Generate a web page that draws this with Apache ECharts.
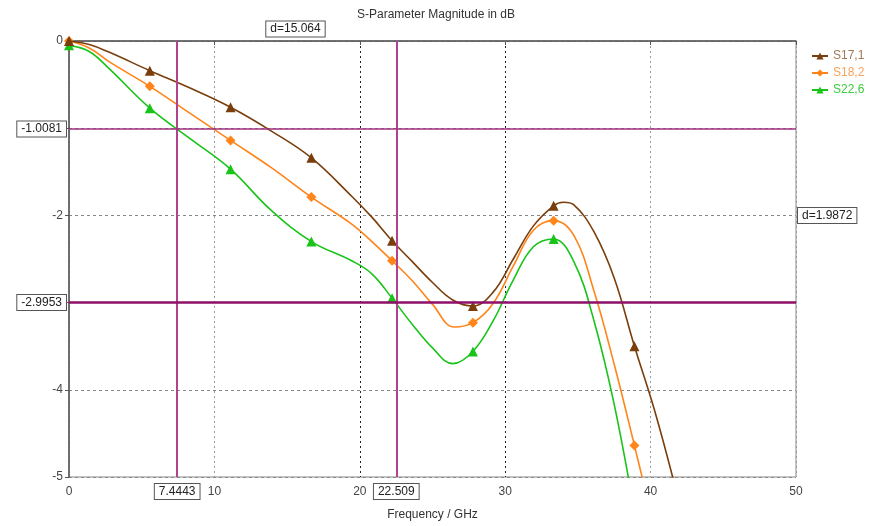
<!DOCTYPE html>
<html>
<head>
<meta charset="utf-8">
<script src="https://cdn.jsdelivr.net/npm/echarts@6/dist/echarts.min.js"></script>
<style>
html, body { margin: 0; padding: 0; background: #fff; }
#chart { width: 872px; height: 526px; }
</style>
</head>
<body>
<div id="chart"></div>
<script>
// frequency samples (GHz) and dB values
const s17Freq = [0, 1.39, 2.78, 5.56, 8.33, 11.11, 13.89, 16.67, 19.44, 20.83, 22.22, 23.61, 25, 26.39, 27.78, 29.17, 30.56, 31.94, 33.33, 34.0, 34.72, 36.11, 37.5, 38.89, 40.28, 41.67];
const s17 = [0, -0.04, -0.13, -0.34, -0.54, -0.76, -1.03, -1.34, -1.78, -2.02, -2.29, -2.53, -2.77, -2.97, -3.04, -2.88, -2.50, -2.12, -1.89, -1.85, -1.88, -2.19, -2.72, -3.50, -4.24, -5.1];
const s18Freq = [0, 1.39, 2.78, 5.56, 8.33, 11.11, 13.89, 16.67, 19.44, 20.83, 22.22, 23.61, 25, 26.5, 27.78, 29.17, 30.56, 31.94, 33.33, 34.72, 36.11, 37.5, 38.89, 40.28];
const s18 = [0, -0.08, -0.24, -0.52, -0.83, -1.14, -1.45, -1.79, -2.10, -2.30, -2.52, -2.75, -3.02, -3.28, -3.23, -3.01, -2.58, -2.17, -2.06, -2.23, -2.87, -3.71, -4.64, -5.6];
const s22Freq = [0, 1.39, 2.78, 5.56, 8.33, 11.11, 13.89, 16.67, 19.44, 20.83, 22.22, 23.61, 25, 26.39, 27.78, 29.17, 30.56, 31.94, 33.33, 34.72, 36.11, 37.5, 38.89];
const s22 = [-0.05, -0.12, -0.32, -0.77, -1.12, -1.47, -1.94, -2.30, -2.52, -2.67, -2.95, -3.25, -3.52, -3.70, -3.56, -3.21, -2.74, -2.36, -2.27, -2.53, -3.21, -4.17, -5.4];
const markerFreqs = [0, 5.56, 11.11, 16.67, 22.22, 27.78, 33.33, 38.89];
const seriesNames = ['S17,1', 'S18,2', 'S22,6'];
const xTicks = [0, 10, 20, 30, 40, 50];
const yTicks = [0, -1, -2, -3, -4, -5];
const cursorX = [7.4443, 22.509];
const cursorY = [-1.0081, -2.9953];
const dLabels = ['d=15.064', 'd=1.9872'];

const FONT = 'Liberation Sans, Arial, sans-serif';
const colors = ['#7a3e0c', '#ff8419', '#19c419'];
const legendText = ['#a07a58', '#f9a35a', '#3ccc3c'];

const myChart = echarts.init(document.getElementById('chart'));

function buildData(fs, vals) {
    var out = [];
    for (var i = 0; i < vals.length; i++) {
        var item = { value: [fs[i], vals[i]] };
        if (markerFreqs.indexOf(fs[i]) < 0) item.symbol = 'none';
        out.push(item);
    }
    return out;
}

const boxLabel = {
    show: true,
    color: '#222',
    fontSize: 12,
    fontFamily: FONT,
    backgroundColor: '#fff',
    borderColor: '#555',
    borderWidth: 1,
    padding: [2, 4, 1, 4]
};

function curve(i, fs, vals, symbol) {
    return {
        name: seriesNames[i],
        type: 'line',
        smooth: 0.4,
        showAllSymbol: true,
        symbol: symbol,
        symbolSize: 10,
        color: colors[i],
        lineStyle: { width: 1.6 },
        data: buildData(fs, vals),
        z: 4 - i
    };
}

const s1 = curve(0, s17Freq, s17, 'triangle');
s1.markLine = {
    silent: true,
    symbol: 'none',
    animation: false,
    data: [
        { xAxis: cursorX[0], lineStyle: { color: '#b2428f', width: 2, type: 'solid' },
          label: Object.assign({}, boxLabel, { position: 'start', distance: 7, formatter: '7.4443' }) },
        { xAxis: cursorX[1], lineStyle: { color: '#b2428f', width: 2, type: 'solid' },
          label: Object.assign({}, boxLabel, { position: 'start', distance: 7, formatter: '22.509' }) },
        { yAxis: cursorY[0], lineStyle: { color: '#a0307e', width: 1.5, type: 'solid' },
          label: Object.assign({}, boxLabel, { position: 'start', distance: 3, formatter: '-1.0081' }) },
        { yAxis: cursorY[1], lineStyle: { color: '#8e0f68', width: 2.5, type: 'solid' },
          label: Object.assign({}, boxLabel, { position: 'start', distance: 3, formatter: '-2.9953' }) }
    ]
};

const option = {
    animation: false,
    title: {
        text: 'S-Parameter Magnitude in dB',
        left: 'center',
        top: 4,
        textStyle: { fontSize: 12, fontWeight: 'normal', color: '#333', fontFamily: FONT }
    },
    legend: {
        orient: 'vertical',
        left: 806,
        top: 45,
        itemWidth: 16,
        itemHeight: 9,
        itemGap: 5,
        textStyle: { fontSize: 12, fontFamily: FONT },
        data: seriesNames.map(function (n, i) {
            return { name: n, textStyle: { color: legendText[i] } };
        })
    },
    grid: {
        left: 69, top: 41, right: 76, bottom: 46,
        show: true, borderColor: '#888', borderWidth: 1
    },
    xAxis: {
        type: 'value',
        min: xTicks[0],
        max: xTicks[xTicks.length - 1],
        interval: xTicks[1] - xTicks[0],
        name: 'Frequency / GHz',
        nameLocation: 'middle',
        nameGap: 32,
        nameTextStyle: { fontSize: 12, color: '#333', fontFamily: FONT },
        axisLine: { lineStyle: { color: '#555', width: 1.5 } },
        axisTick: { show: true, length: 4, lineStyle: { color: '#555' } },
        axisLabel: { fontSize: 12, color: '#444', fontFamily: FONT, margin: 9 },
        splitLine: {
            show: true,
            lineStyle: { type: [2, 3], color: ['#999', '#999', '#222', '#222', '#999', '#999'] }
        }
    },
    yAxis: {
        type: 'value',
        min: yTicks[yTicks.length - 1],
        max: yTicks[0],
        interval: 1,
        axisLine: { show: true, lineStyle: { color: '#555', width: 1.5 } },
        axisTick: { show: true, length: 4, lineStyle: { color: '#555' } },
        axisLabel: {
            fontSize: 12, color: '#444', fontFamily: FONT, margin: 6,
            formatter: function (v) { return (v === -1 || v === -3) ? '' : String(v); }
        },
        splitLine: { show: true, lineStyle: { type: [3, 3], color: '#888' } }
    },
    series: [s1, curve(1, s18Freq, s18, 'diamond'), curve(2, s22Freq, s22, 'triangle')]
};
myChart.setOption(option);

// delta boxes placed from axis values
var topMid = myChart.convertToPixel({ gridIndex: 0 }, [(cursorX[0] + cursorX[1]) / 2 + 0.6, yTicks[0]]);
var rightMid = myChart.convertToPixel({ gridIndex: 0 }, [xTicks[xTicks.length - 1], (cursorY[0] + cursorY[1]) / 2]);
var boxStyle = {
    fill: '#222',
    font: '12px ' + FONT,
    backgroundColor: '#fff',
    borderColor: '#555',
    borderWidth: 1,
    padding: [2, 4, 1, 4],
    verticalAlign: 'middle'
};
myChart.setOption({
    graphic: [
        { type: 'text', x: topMid[0], y: topMid[1] - 12, z: 10,
          style: Object.assign({}, boxStyle, { text: dLabels[0], align: 'center' }) },
        { type: 'text', x: rightMid[0] + 2, y: rightMid[1], z: 10,
          style: Object.assign({}, boxStyle, { text: dLabels[1], align: 'left' }) }
    ]
});
</script>
</body>
</html>
